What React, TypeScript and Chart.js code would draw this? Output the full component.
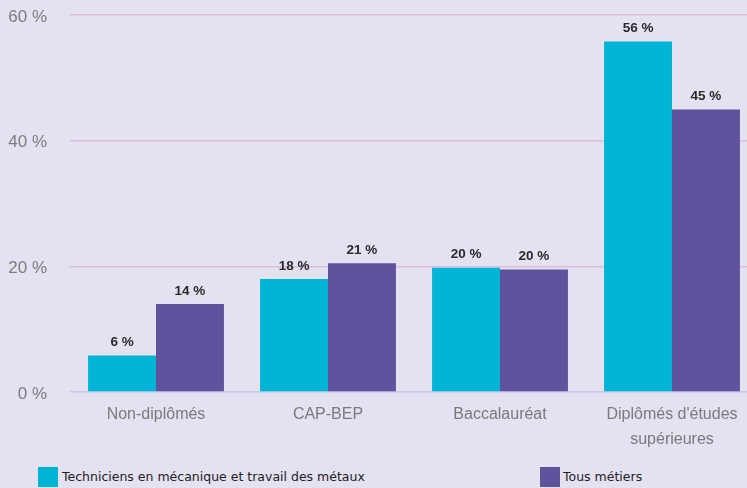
import React, { useEffect, useRef } from "react";
import { Chart, registerables } from "chart.js";

Chart.register(...registerables);

const categories: (string | string[])[] = [
  "Non-diplômés",
  "CAP-BEP",
  "Baccalauréat",
  ["Diplômés d'études", "supérieures"],
];
const seriesNames = [
  "Techniciens en mécanique et travail des métaux",
  "Tous métiers",
];
const techniciens = [5.8, 18, 19.8, 55.8];
const tousMetiers = [14, 20.5, 19.5, 45];
const techniciensLabels = ["6 %", "18 %", "20 %", "56 %"];
const tousMetiersLabels = ["14 %", "21 %", "20 %", "45 %"];
const yTicks = [0, 20, 40, 60];

const CYAN = "#02b4d6";
const PURPLE = "#60539e";
const BG = "#e4e1f0";

const valueLabelPlugin = {
  id: "valueLabels",
  afterDatasetsDraw(chart: any) {
    const ctx = chart.ctx;
    const labelSets = [techniciensLabels, tousMetiersLabels];
    ctx.save();
    ctx.font = "bold 13.5px 'Liberation Sans', Arial, sans-serif";
    ctx.fillStyle = "#2a2a2a";
    ctx.textAlign = "center";
    ctx.textBaseline = "middle";
    chart.data.datasets.forEach((_: any, di: number) => {
      const meta = chart.getDatasetMeta(di);
      meta.data.forEach((el: any, i: number) => {
        ctx.fillText(labelSets[di][i], el.x, el.y - 13);
      });
    });
    ctx.restore();
  },
};

export default function App() {
  const ref = useRef<HTMLCanvasElement>(null);
  useEffect(() => {
    if (!ref.current) return;
    const chart = new Chart(ref.current, {
      type: "bar",
      data: {
        labels: categories,
        datasets: [
          {
            label: seriesNames[0],
            data: techniciens,
            backgroundColor: CYAN,
            categoryPercentage: 0.79,
            barPercentage: 1,
          },
          {
            label: seriesNames[1],
            data: tousMetiers,
            backgroundColor: PURPLE,
            categoryPercentage: 0.79,
            barPercentage: 1,
          },
        ],
      },
      options: {
        responsive: false,
        animation: false,
        layout: { padding: { top: 0, right: 2, left: 0, bottom: 0 } },
        plugins: {
          legend: { display: false },
          tooltip: { enabled: false },
        },
        scales: {
          x: {
            grid: { display: false },
            border: { display: false },
            ticks: {
              color: "#7a7a7a",
              font: { family: "'Liberation Sans', Arial, sans-serif", size: 16, lineHeight: 1.55 },
              padding: 2,
              maxRotation: 0,
              autoSkip: false,
            },
            afterFit: (scale: any) => {
              scale.height = 68;
            },
          },
          y: {
            min: 0,
            max: 60,
            afterBuildTicks: (scale: any) => {
              scale.ticks = yTicks.map((v) => ({ value: v }));
            },
            grid: {
              drawTicks: false,
              lineWidth: 1.5,
              color: (c: any) => (c.tick && c.tick.value === 0 ? "#c6c8ec" : "#dcbcdc"),
            },
            border: { display: false },
            ticks: {
              color: "#7c7c7c",
              font: { family: "'Liberation Sans', Arial, sans-serif", size: 17 },
              padding: 23,
              labelOffset: 2,
              callback: (v: any) => v + " %",
            },
            afterFit: (scale: any) => {
              scale.width = 70;
            },
          },
        },
      },
      plugins: [valueLabelPlugin],
    });
    return () => chart.destroy();
  }, []);

  const legendText: React.CSSProperties = {
    position: "absolute",
    top: 467,
    height: 20,
    lineHeight: "20px",
    fontFamily: "'DejaVu Sans', sans-serif",
    fontSize: 12.5,
    color: "#222",
    whiteSpace: "nowrap",
  };
  return (
    <div
      style={{
        position: "absolute",
        left: 0,
        top: 0,
        width: 747,
        height: 488,
        overflow: "hidden",
        background: BG,
      }}
    >
      <canvas ref={ref} width={760} height={478} style={{ position: "absolute", left: 0, top: -18 }} />
      <div style={{ position: "absolute", left: 38, top: 467, width: 20, height: 20, background: CYAN }} />
      <div style={{ ...legendText, left: 62 }}>{seriesNames[0]}</div>
      <div style={{ position: "absolute", left: 540, top: 467, width: 20, height: 20, background: PURPLE }} />
      <div style={{ ...legendText, left: 563 }}>{seriesNames[1]}</div>
    </div>
  );
}
